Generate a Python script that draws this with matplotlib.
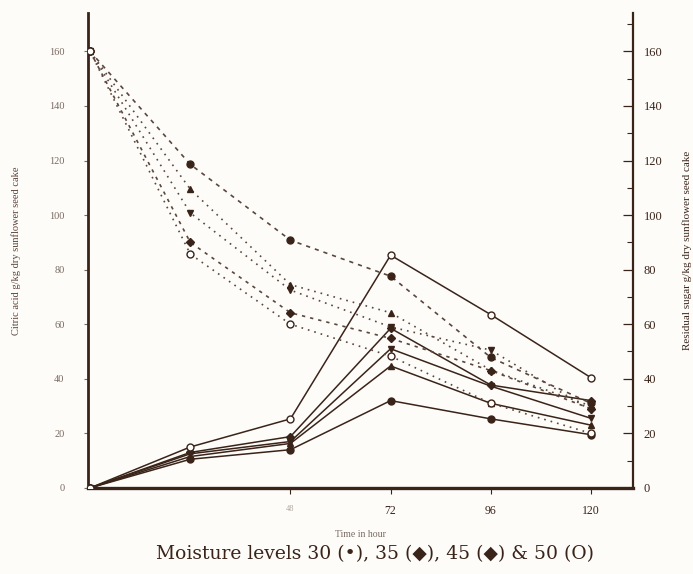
import numpy as np
import matplotlib.pyplot as plt

# -----------------------------
# Data
# -----------------------------
hours = [0, 24, 48, 72, 96, 120]

# citric acid, g/kg dry sunflower seed cake (solid lines)
citric_circle = [0, 10.5, 14.0, 32.0, 25.3, 19.5]
citric_triangle = [0, 11.5, 16.3, 44.7, 31.0, 23.0]
citric_invtri = [0, 12.5, 17.0, 51.0, 37.3, 25.5]
citric_diamond = [0, 13.0, 18.8, 58.5, 37.7, 32.0]
citric_open = [0, 15.0, 25.3, 85.3, 63.5, 40.4]

# residual sugar, g/kg dry sunflower seed cake (dotted lines)
sugar_circle = [160, 118.6, 90.8, 77.6, 47.8, 31.0]
sugar_triangle = [160, 109.5, 74.5, 64.2, 43.2, 30.0]
sugar_invtri = [160, 100.8, 72.5, 59.0, 50.5, 28.5]
sugar_diamond = [160, 90.0, 64.2, 54.8, 43.0, 29.0]
sugar_open = [160, 85.7, 60.0, 48.3, 31.0, 20.0]

ink = "#3a2419"
faint = "#7a6a60"
dots = "#5a463c"

plt.rcParams["font.family"] = ["Liberation Serif", "DejaVu Sans"]

fig = plt.figure(figsize=(6.93, 5.74), dpi=100, facecolor="#fdfcf9")
ax = fig.add_axes([0.127, 0.150, 0.786, 0.827])
ax.set_facecolor("#fdfcf9")
ax2 = ax.twinx()

markers = [
    ("o", ink, citric_circle, sugar_circle, (0, (2.5, 3))),
    ("^", ink, citric_triangle, sugar_triangle, (0, (1, 3))),
    ("v", ink, citric_invtri, sugar_invtri, (0, (1, 3))),
    ("D", ink, citric_diamond, sugar_diamond, (0, (2, 3))),
    ("o", "white", citric_open, sugar_open, (0, (1, 3))),
]

for mk, fc, cit, sug, ls in markers:
    ms = 4.2 if mk == "D" else 5
    ax.plot(hours, cit, color=ink, lw=1.1, marker=mk, ms=ms,
            mfc=fc, mec=ink, mew=1.0, zorder=3)
    ax2.plot(hours, sug, color=dots, lw=1.2, ls=ls, marker=mk, ms=ms,
             mfc=fc, mec=ink, mew=1.0, zorder=3)

for a in (ax, ax2):
    a.set_xlim(-0.5, 130)
    a.set_ylim(0, 174)
    a.spines["top"].set_visible(False)

ax.spines["left"].set_linewidth(2.0)
ax.spines["bottom"].set_linewidth(2.4)
ax.spines["right"].set_visible(False)
ax2.spines["left"].set_visible(False)
ax2.spines["bottom"].set_visible(False)
ax2.spines["right"].set_linewidth(1.6)
for s in ("left", "bottom"):
    ax.spines[s].set_color(ink)
ax2.spines["right"].set_color(ink)

# left axis: small faded labels
ax.set_yticks(np.arange(0, 161, 20))
ax.tick_params(axis="y", direction="out", length=3, width=0.8,
               colors=faint, labelsize=7.5, pad=14)

# bottom axis
ax.set_xticks([48, 72, 96, 120])
ax.set_xticklabels(["48", "72", "96", "120"])
ax.tick_params(axis="x", direction="out", length=4, width=0.8,
               colors=ink, labelsize=8.5, pad=8)
ax.get_xticklabels()[0].set_color("#b0a8a0")
ax.get_xticklabels()[0].set_fontsize(6)

# right axis
ax2.set_yticks(np.arange(0, 161, 20))
ax2.set_yticks(np.arange(10, 171, 20), minor=True)
ax2.tick_params(axis="y", which="major", direction="in", length=7,
                width=0.9, colors=ink, labelsize=9, pad=8)
ax2.tick_params(axis="y", which="minor", direction="in", length=4,
                width=0.8, colors=ink)

ax.set_xlabel("Time in hour", fontsize=7, color=faint, labelpad=10)
ax.set_ylabel("Citric acid g/kg dry sunflower seed cake", fontsize=7.5,
              color="#5a4236", labelpad=20)
ax2.set_ylabel("Residual sugar g/kg dry sunflower seed cake", fontsize=8,
               color=ink, rotation=90, labelpad=14)

fig.text(0.541, 0.019, "Moisture levels 30 (\u2022), 35 (\u25c6), 45 (\u25c6) & 50 (O)",
         ha="center", va="bottom", fontsize=13.5, color=ink,
         family=["DejaVu Serif", "DejaVu Sans"])

fig.savefig("out.png", dpi=100, facecolor=fig.get_facecolor())
